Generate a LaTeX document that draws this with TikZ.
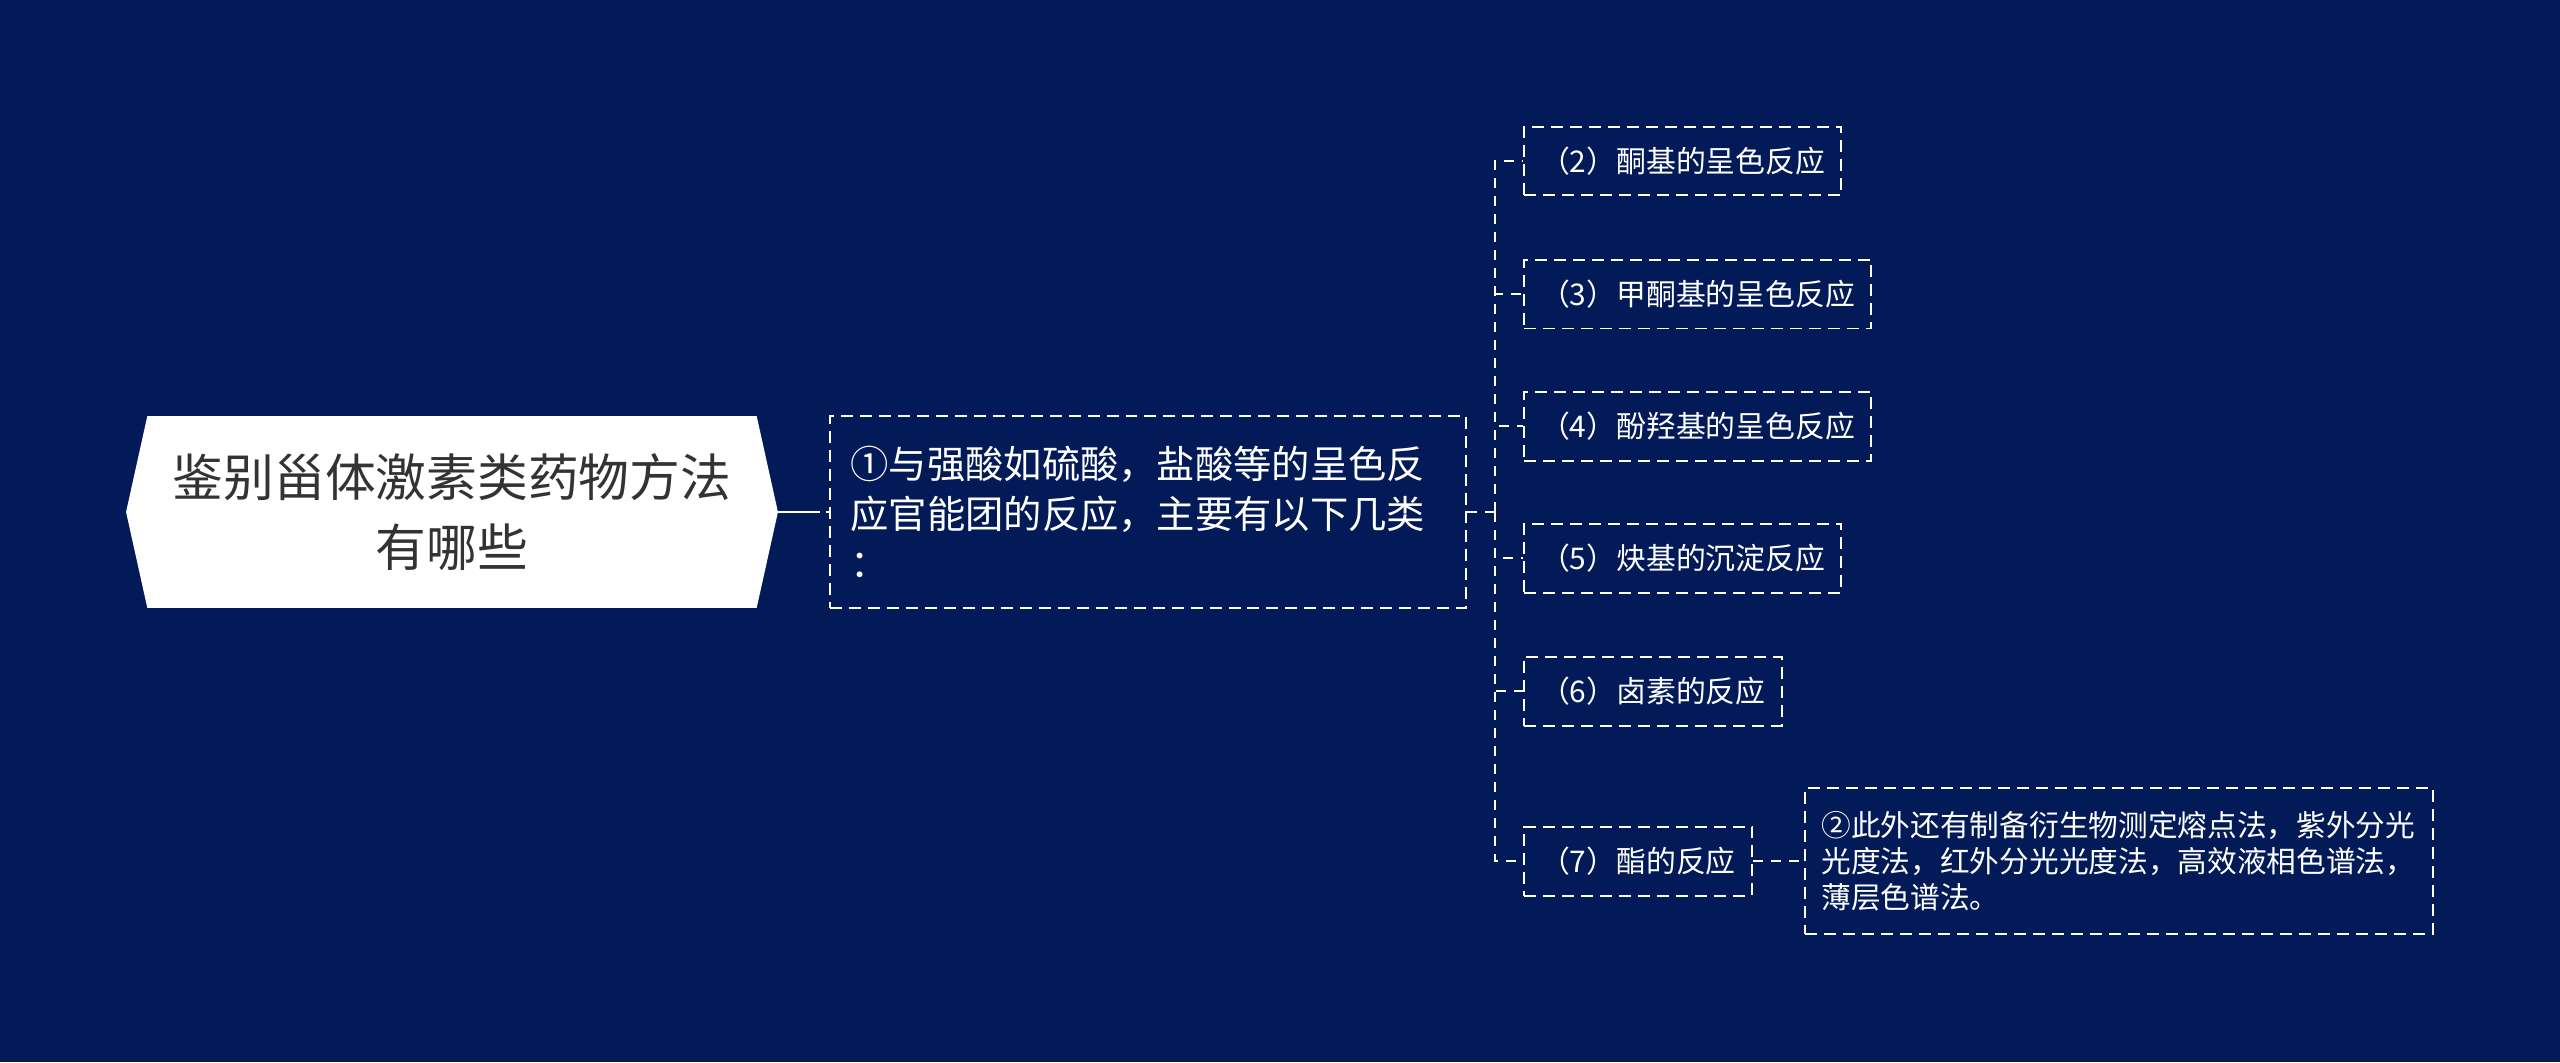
\documentclass[tikz,border=0pt]{standalone}
\usepackage{fontspec}
\setmainfont{Noto Sans CJK SC}
\usetikzlibrary{shapes.symbols}
\definecolor{navyBG}{RGB}{2,26,87}
\definecolor{rootText}{RGB}{51,51,51}

\begin{document}
\begin{tikzpicture}
  [x=0.02cm,y=-0.02cm,
   rootN/.style={signal,signal to=west and east,signal pointer angle=155,
     fill=white,text=rootText,minimum width=13.04cm,minimum height=3.84cm,
     inner sep=0pt,align=center,font=\fontsize{28.9}{40.3}\selectfont},
   dashB/.style={draw=white,line width=0.04cm,dash pattern=on 0.24cm off 0.14cm},
   mainN/.style={dashB,text=white,text width=11.9cm,inner xsep=0.42cm,
     minimum height=3.86cm,align=left,font=\fontsize{21.8}{28.3}\selectfont},
   leafN/.style={dashB,text=white,inner xsep=0.32cm,minimum height=1.38cm,
     font=\fontsize{17}{20}\selectfont},
   noteN/.style={dashB,text=white,text width=11.9cm,inner xsep=0.33cm,
     minimum height=2.92cm,align=left,font=\fontsize{16.9}{20.4}\selectfont},
   linkE/.style={white,line width=0.04cm,dash pattern=on 0.2cm off 0.16cm},
   rootE/.style={white,line width=0.04cm,dash pattern=on 0.84cm off 0.12cm}]

  \fill[navyBG] (0,0) rectangle (2560,1062);

  \coordinate (fork) at (1495,512);

  \node[rootN] (root) at (452,512) {鉴别甾体激素类药物方法\\有哪些};
  \node[mainN] (n1) at (1148,512)
    {①与强酸如硫酸，盐酸等的呈色反\\应官能团的反应，主要有以下几类\\：};

  \node[leafN,anchor=west] (c2) at (1523,161) {（2）酮基的呈色反应};
  \node[leafN,anchor=west] (c3) at (1523,294) {（3）甲酮基的呈色反应};
  \node[leafN,anchor=west] (c4) at (1523,426) {（4）酚羟基的呈色反应};
  \node[leafN,anchor=west] (c5) at (1523,558) {（5）炔基的沉淀反应};
  \node[leafN,anchor=west] (c6) at (1523,691) {（6）卤素的反应};
  \node[leafN,anchor=west] (c7) at (1523,861) {（7）酯的反应};

  \node[noteN,anchor=west] (note) at (1804,861)
    {②此外还有制备衍生物测定熔点法，紫外分光\\光度法，红外分光光度法，高效液相色谱法，\\薄层色谱法。};

  \draw [rootE] (root.east) -- (n1.west);
  \draw [linkE] (n1.east) -- (fork);
  \foreach \c in {c2,c3,c4,c5,c6,c7}
    \draw [linkE] (fork) |- (\c.west);
  \draw [linkE] (c7.east) -- (note.west);
\end{tikzpicture}
\end{document}
